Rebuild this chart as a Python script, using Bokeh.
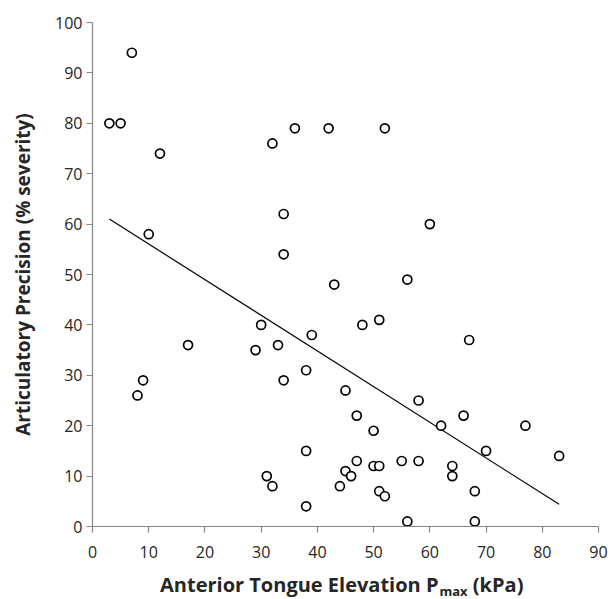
from bokeh.plotting import figure
from bokeh.models import Range1d, FixedTicker, Div
from bokeh.layouts import column
from bokeh.embed import file_html
from bokeh.resources import INLINE

# Data
pmax_kpa = [3, 5, 7, 12, 10, 17, 9, 8, 30, 29, 33, 34, 34, 34, 32, 36, 42, 52,
            43, 39, 38, 48, 51, 56, 60, 67, 45, 58, 47, 50, 62, 66, 77, 70, 83,
            38, 31, 32, 38, 44, 45, 46, 47, 50, 51, 51, 52, 55, 58, 64, 64, 68,
            56, 68]
severity_pct = [80, 80, 94, 74, 58, 36, 29, 26, 40, 35, 36, 29, 62, 54, 76, 79, 79, 79,
                48, 38, 31, 40, 41, 49, 60, 37, 27, 25, 22, 19, 20, 22, 20, 15, 14,
                15, 10, 8, 4, 8, 11, 10, 13, 12, 12, 7, 6, 13, 13, 12, 10, 7,
                1, 1]
trend_x = [3, 83]
trend_y = [61, 4.4]
x_ticks = [0, 10, 20, 30, 40, 50, 60, 70, 80, 90]
y_ticks = [0, 10, 20, 30, 40, 50, 60, 70, 80, 90, 100]
x_title = "Anterior Tongue Elevation P"
x_title_sub = "max"
x_title_unit = "(kPa)"
y_title = "Articulatory Precision (% severity)"

W, H = 610, 573
FONT = "Open Sans"
AXIS_COLOR = "#868686"
TEXT_COLOR = "#262626"

p = figure(width=W, height=H, output_backend="svg", toolbar_location=None,
           x_range=Range1d(0, 90), y_range=Range1d(0, 100),
           min_border_left=92, min_border_right=12, min_border_top=22,
           min_border_bottom=47)
p.frame_width = 506
p.frame_height = 504
p.outline_line_color = None
p.xgrid.visible = False
p.ygrid.visible = False
p.background_fill_color = "white"
p.border_fill_color = "white"

for ax in (p.xaxis[0], p.yaxis[0]):
    ax.axis_line_color = AXIS_COLOR
    ax.axis_line_width = 1.2
    ax.major_tick_line_color = AXIS_COLOR
    ax.major_tick_line_width = 1.2
    ax.major_tick_out = 6
    ax.major_tick_in = 0
    ax.minor_tick_line_color = None
    ax.major_label_text_font = FONT
    ax.major_label_text_font_size = "16px"
    ax.major_label_text_color = TEXT_COLOR

p.xaxis.ticker = FixedTicker(ticks=x_ticks)
p.yaxis.ticker = FixedTicker(ticks=y_ticks)
p.xaxis.major_label_standoff = 13
p.yaxis.major_label_standoff = 4
p.xaxis.axis_label = None

p.yaxis.axis_label = y_title
p.yaxis.axis_label_text_font = FONT
p.yaxis.axis_label_text_font_style = "bold"
p.yaxis.axis_label_text_font_size = "19px"
p.yaxis.axis_label_text_color = TEXT_COLOR
p.yaxis.axis_label_standoff = 16

p.line(trend_x, trend_y, line_color="black", line_width=1.2)
p.scatter(pmax_kpa, severity_pct, marker="circle", size=9,
          fill_color="white", line_color="black", line_width=1.7)

label_html = (
    f'<div style="font-family:\'{FONT}\';font-weight:bold;font-size:20px;'
    f'line-height:24px;color:{TEXT_COLOR};white-space:nowrap;'
    f'padding-left:160px;padding-top:0px;">'
    f'{x_title}<span style="font-size:13px;line-height:13px;position:relative;'
    f'top:4px;margin-left:1px;">{x_title_sub}</span> {x_title_unit}</div>'
)
xlabel = Div(text=label_html, width=W, height=26, margin=0)

layout = column(p, xlabel, spacing=0)
open("out.html", "w").write(file_html(layout, INLINE))
